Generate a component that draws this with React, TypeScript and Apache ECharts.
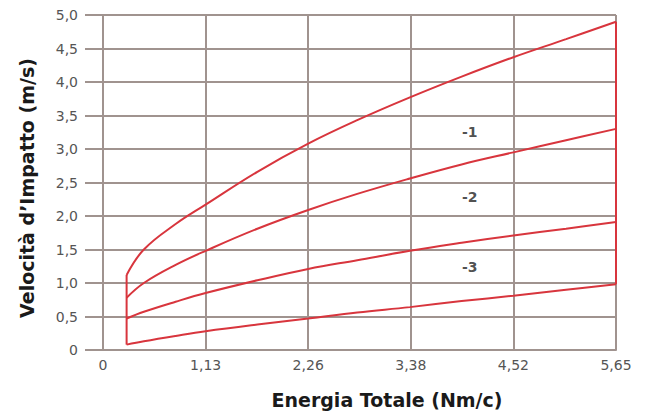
import React, { useEffect, useRef } from "react";
import * as echarts from "echarts";

const xTickLabels = ["0", "1,13", "2,26", "3,38", "4,52", "5,65"];
const yTickLabels = ["0", "0,5", "1,0", "1,5", "2,0", "2,5", "3,0", "3,5", "4,0", "4,5", "5,0"];

const energy = [0.26, 0.45, 0.8, 1.13, 1.7, 2.26, 2.8, 3.38, 3.95, 4.52, 5.1, 5.65];
const curveTop = [1.12, 1.5, 1.88, 2.17, 2.66, 3.08, 3.43, 3.77, 4.08, 4.37, 4.64, 4.9];
const curve1 = [0.78, 1.0, 1.27, 1.48, 1.81, 2.09, 2.33, 2.56, 2.77, 2.95, 3.13, 3.3];
const curve2 = [0.47, 0.57, 0.72, 0.85, 1.04, 1.21, 1.34, 1.48, 1.6, 1.71, 1.81, 1.91];
const curve3 = [0.08, 0.13, 0.21, 0.28, 0.38, 0.47, 0.56, 0.64, 0.73, 0.81, 0.9, 0.98];

const leftEdge = [[0.26, 0.08], [0.26, 1.12]];
const rightEdge = [[5.65, 0.98], [5.65, 4.9]];

const labelNames = ["-1", "-2", "-3"];
const labelPos = [[4.04, 3.25], [4.04, 2.28], [4.04, 1.24]];

const RED = "#d8353d";
const GRID = "#a0938f";

export default function App() {
  const ref = useRef<HTMLDivElement>(null);
  useEffect(() => {
    const chart = echarts.init(ref.current!, null, { renderer: "svg" });
    const mk = (ys: number[]) => energy.map((x, i) => [x, ys[i]]);
    const lineSeries = (data: number[][], smooth: boolean | number) => ({
      type: "line",
      data,
      smooth,
      showSymbol: false,
      symbol: "none",
      lineStyle: { color: RED, width: 2 },
      z: 3,
    });
    chart.setOption({
      animation: false,
      backgroundColor: "#ffffff",
      grid: { left: 103, right: 31, top: 15, bottom: 67 },
      xAxis: {
        type: "value",
        min: 0,
        max: 5.65,
        interval: 1.13,
        axisLine: { show: true, lineStyle: { color: GRID, width: 2 } },
        axisTick: { show: false },
        splitLine: { show: true, lineStyle: { color: GRID, width: 2 } },
        axisLabel: {
          color: "#555",
          fontSize: 14,
          fontFamily: "DejaVu Sans",
          margin: 8,
          formatter: (v: number) => xTickLabels[Math.round(v / 1.13)] ?? "",
        },
      },
      yAxis: {
        type: "value",
        min: 0,
        max: 5,
        interval: 0.5,
        axisLine: { show: true, lineStyle: { color: GRID, width: 2 } },
        axisTick: { show: true, length: 18, lineStyle: { color: GRID, width: 2 } },
        splitLine: { show: true, lineStyle: { color: GRID, width: 2 } },
        axisLabel: {
          color: "#555",
          fontSize: 14,
          fontFamily: "DejaVu Sans",
          margin: 25,
          formatter: (v: number) => yTickLabels[Math.round(v / 0.5)] ?? "",
        },
      },
      graphic: [
        {
          type: "text",
          x: 27,
          y: 188,
          rotation: Math.PI / 2,
          style: {
            text: "Velocità d’Impatto (m/s)",
            align: "center",
            verticalAlign: "middle",
            font: "bold 19px 'DejaVu Sans'",
            fill: "#1a1a1a",
          },
        },
        {
          type: "text",
          x: 387,
          y: 400,
          style: {
            text: "Energia Totale (Nm/c)",
            align: "center",
            verticalAlign: "middle",
            font: "bold 19px 'DejaVu Sans'",
            fill: "#1a1a1a",
          },
        },
      ],
      series: [
        lineSeries(mk(curveTop), 0.4),
        lineSeries(mk(curve1), 0.4),
        lineSeries(mk(curve2), 0.4),
        lineSeries(mk(curve3), 0.4),
        lineSeries(leftEdge, false),
        lineSeries(rightEdge, false),
        {
          type: "scatter",
          symbolSize: 0,
          data: labelPos.map((p, i) => ({ value: p, name: labelNames[i] })),
          label: {
            show: true,
            position: "inside",
            formatter: (p: any) => p.name,
            color: "#222",
            fontSize: 14,
            fontWeight: "bold",
            fontFamily: "DejaVu Sans",
          },
          z: 4,
        },
      ],
    });
    return () => chart.dispose();
  }, []);
  return <div ref={ref} style={{ width: 647, height: 417, position: "absolute", left: 0, top: 0 }} />;
}
